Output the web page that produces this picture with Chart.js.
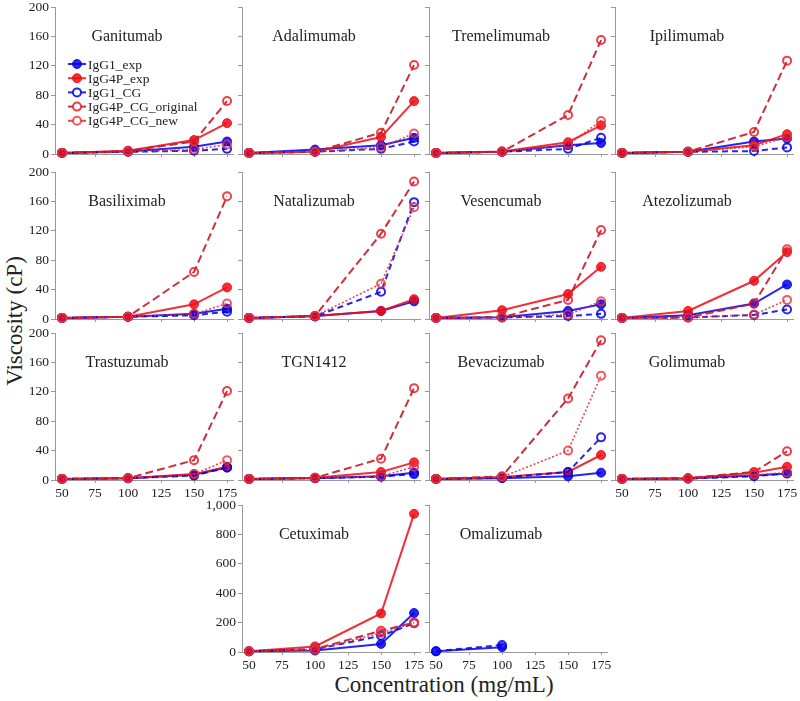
<!DOCTYPE html>
<html>
<head>
<meta charset="utf-8">
<script src="https://cdn.jsdelivr.net/npm/chart.js@4.4.0/dist/chart.umd.min.js"></script>
<style>
body { margin: 0; background: #fff; }
#wrap { position: relative; width: 800px; height: 701px; overflow: hidden; font-family: "Liberation Serif", serif; color: #222; }
#wrap canvas { position: absolute; }
.ylab { position: absolute; left: 15px; top: 321px; transform: translate(-50%, -50%) rotate(-90deg); font-size: 23px; white-space: nowrap; }
.xlab { position: absolute; left: 444px; top: 685px; transform: translate(-50%, -50%); font-size: 23px; white-space: nowrap; }
</style>
</head>
<body>
<div id="wrap">
  <div class="ylab">Viscosity (cP)</div>
  <div class="xlab">Concentration (mg/mL)</div>
</div>
<script>
// concentrations (mg/mL) and axis ticks
var concentrations = [50, 100, 150, 175];
var xTicks = [50, 75, 100, 125, 150, 175];

var panels = ['Ganitumab', 'Adalimumab', 'Tremelimumab', 'Ipilimumab',
              'Basiliximab', 'Natalizumab', 'Vesencumab', 'Atezolizumab',
              'Trastuzumab', 'TGN1412', 'Bevacizumab', 'Golimumab',
              'Cetuximab', 'Omalizumab'];

// viscosity (cP) per panel, values at 50/100/150/175 mg/mL
var IgG1_exp = [
    [1.5, 3.5, 10, 17], [1.5, 6, 12, 22], [1.5, 3, 12, 15], [1.5, 3, 17, 21],
    [1.5, 3, 7, 14], [1.5, 4, 11, 24], [1.5, 2.5, 11, 20], [1.5, 5, 21, 47],
    [1.5, 2.5, 7, 17], [1.5, 2.5, 5, 10], [1.5, 2.5, 5, 10], [1.5, 2, 6, 9],
    [5, 10, 55, 265], [5, 33, null, null]
];
var IgG4P_exp = [
    [1.5, 4.5, 19, 42], [1.5, 3, 23, 72], [1.5, 3.5, 16, 39], [1.5, 3, 12, 27],
    [1.5, 3, 20, 43], [1.5, 4, 11, 27], [1.5, 12, 34, 71], [1.5, 11, 52, 91],
    [1.5, 2.5, 8, 18], [1.5, 3, 11, 24], [1.5, 4, 11, 34], [1.5, 2.5, 10, 18],
    [5, 38, 262, 940], [null, null, null, null]
];
var IgG1_CG = [
    [1.5, 3, 4.5, 7], [1.5, 3, 7, 17], [1.5, 3, 7, 22], [1.5, 3, 4, 9],
    [1.5, 3, 5, 10], [1.5, 3.5, 37, 159], [1.5, 2, 4, 7], [1.5, 2, 5.5, 13],
    [1.5, 2.5, 6, 17], [1.5, 2.5, 4.5, 8], [1.5, 3, 11, 58], [1.5, 2, 5, 9],
    [5, 18, 110, 195], [5, 48, null, null]
];
var IgG4P_CG_original = [
    [1.5, 4, 17, 72], [1.5, 3, 29, 121], [1.5, 3, 53, 155], [1.5, 3, 30, 127],
    [1.5, 3, 64, 167], [1.5, 4, 116, 187], [1.5, 2.5, 26, 121], [1.5, 2, 21, 95],
    [1.5, 2.5, 27, 121], [1.5, 3, 29, 125], [1.5, 5, 111, 190], [1.5, 2.5, 11, 39],
    [5, 20, 145, 200], [null, null, null, null]
];
var IgG4P_CG_new = [
    [1.5, 3, 6, 13], [1.5, 3, 9, 28], [1.5, 3, 13, 45], [1.5, 3, 10, 23],
    [1.5, 3, 7, 21], [1.5, 4, 48, 152], [1.5, 2, 6, 24], [1.5, 2, 6, 26],
    [1.5, 2.5, 8, 27], [1.5, 3, 5, 18], [1.5, 4, 40, 142], [1.5, 2, 7, 10],
    [5, 15, 130, 198], [null, null, null, null]
];

// layout
var panelCol = [0, 1, 2, 3, 0, 1, 2, 3, 0, 1, 2, 3, 1, 2];
var panelRow = [0, 0, 0, 0, 1, 1, 1, 1, 2, 2, 2, 2, 3, 3];
var colX = [55, 242, 429, 615];
var rowTop = [7, 172, 333, 505];
var plotW = 178, plotH = 147;
var padL = 50, padT = 12, padR = 14, padB = 26;

var blue = 'rgba(0, 0, 235, 0.85)';
var red = 'rgba(240, 10, 20, 0.85)';
var none = 'rgba(255, 255, 255, 0)';

var styles = [
    { label: 'IgG1_exp', data: IgG1_exp, borderColor: blue, pointBackgroundColor: blue, pointBorderColor: blue, borderWidth: 2, borderDash: [], pointRadius: 4.5, pointBorderWidth: 1 },
    { label: 'IgG4P_exp', data: IgG4P_exp, borderColor: red, pointBackgroundColor: red, pointBorderColor: red, borderWidth: 2, borderDash: [], pointRadius: 4.5, pointBorderWidth: 1 },
    { label: 'IgG1_CG', data: IgG1_CG, borderColor: blue, pointBackgroundColor: none, pointBorderColor: blue, borderWidth: 2, borderDash: [6, 4], pointRadius: 4, pointBorderWidth: 2 },
    { label: 'IgG4P_CG_original', data: IgG4P_CG_original, borderColor: 'rgba(195, 25, 40, 0.9)', pointBackgroundColor: none, pointBorderColor: 'rgba(235, 30, 40, 0.85)', borderWidth: 2, borderDash: [8, 4], pointRadius: 4, pointBorderWidth: 2 },
    { label: 'IgG4P_CG_new', data: IgG4P_CG_new, borderColor: 'rgba(230, 40, 50, 0.85)', pointBackgroundColor: none, pointBorderColor: 'rgba(235, 50, 60, 0.8)', borderWidth: 1.6, borderDash: [2, 2], pointRadius: 4, pointBorderWidth: 2 }
];

var titlePlugin = {
    id: 'panelTitle',
    beforeDatasetsDraw: function (chart, args, opts) {
        var ctx = chart.ctx, a = chart.chartArea;
        ctx.save();
        ctx.font = '16px "Liberation Serif"';
        ctx.fillStyle = '#222';
        ctx.textAlign = 'center';
        ctx.textBaseline = 'middle';
        ctx.fillText(opts.text, a.left + 72, a.top + 30);
        ctx.restore();
    }
};

var legendPlugin = {
    id: 'innerLegend',
    afterDatasetsDraw: function (chart) {
        var ctx = chart.ctx, a = chart.chartArea;
        ctx.save();
        ctx.font = '13.5px "Liberation Serif"';
        ctx.textBaseline = 'middle';
        chart.data.datasets.forEach(function (ds, i) {
            var y = a.top + 57 + i * 14.2;
            var x0 = a.left + 13, x1 = a.left + 31, xm = a.left + 22;
            ctx.strokeStyle = ds.borderColor;
            ctx.lineWidth = 2;
            ctx.setLineDash([]);
            ctx.beginPath(); ctx.moveTo(x0, y); ctx.lineTo(x1, y); ctx.stroke();
            ctx.beginPath();
            ctx.arc(xm, y, ds.pointRadius, 0, Math.PI * 2);
            ctx.fillStyle = ds.pointBackgroundColor === none ? '#fff' : ds.pointBackgroundColor;
            ctx.fill();
            ctx.lineWidth = ds.pointBorderWidth;
            ctx.strokeStyle = ds.pointBorderColor;
            ctx.stroke();
            ctx.fillStyle = '#222';
            ctx.fillText(ds.label, a.left + 33, y + 1);
        });
        ctx.restore();
    }
};

var wrap = document.getElementById('wrap');

panels.forEach(function (name, p) {
    var cv = document.createElement('canvas');
    cv.width = padL + plotW + padR;
    cv.height = padT + plotH + padB;
    cv.style.left = (colX[panelCol[p]] - padL) + 'px';
    cv.style.top = (rowTop[panelRow[p]] - padT) + 'px';
    wrap.appendChild(cv);

    var big = panelRow[p] === 3;
    var showY = panelCol[p] === 0 || p === 12;
    var showX = p === 8 || p === 11 || p === 12 || p === 13;

    var datasets = styles.map(function (s, i) {
        return {
            label: s.label,
            data: concentrations.map(function (c, k) { return { x: c, y: s.data[p][k] }; }),
            borderColor: s.borderColor,
            borderWidth: s.borderWidth,
            borderDash: s.borderDash,
            pointRadius: s.pointRadius,
            pointBorderWidth: s.pointBorderWidth,
            pointBackgroundColor: s.pointBackgroundColor,
            pointBorderColor: s.pointBorderColor,
            tension: 0,
            fill: false,
            clip: false,
            order: 10 - i
        };
    });

    new Chart(cv.getContext('2d'), {
        type: 'line',
        data: { datasets: datasets },
        options: {
            responsive: false,
            animation: false,
            layout: { padding: { top: padT, right: padR, left: 0, bottom: 0 } },
            scales: {
                x: {
                    type: 'linear',
                    min: 44.7,
                    max: 179.5,
                    afterBuildTicks: function (s) { s.ticks = xTicks.map(function (v) { return { value: v }; }); },
                    afterFit: function (s) { s.height = padB; },
                    ticks: { display: showX, autoSkip: false, maxRotation: 0, padding: 2, color: '#222', font: { family: 'Liberation Serif', size: 13.5 } },
                    grid: { drawOnChartArea: false, drawTicks: true, tickLength: 3, color: '#999' },
                    border: { color: '#999', width: 1 }
                },
                y: {
                    min: 0,
                    max: big ? 1000 : 200,
                    afterFit: function (s) { s.width = padL; },
                    ticks: { display: showY, stepSize: big ? 200 : 40, padding: 2, color: '#222', font: { family: 'Liberation Serif', size: 13.5 } },
                    grid: { drawOnChartArea: false, drawTicks: true, tickLength: 4, color: '#999' },
                    border: { color: '#999', width: 1 }
                }
            },
            plugins: {
                legend: { display: false },
                tooltip: { enabled: false },
                panelTitle: { text: name }
            }
        },
        plugins: p === 0 ? [titlePlugin, legendPlugin] : [titlePlugin]
    });
});
</script>
</body>
</html>
